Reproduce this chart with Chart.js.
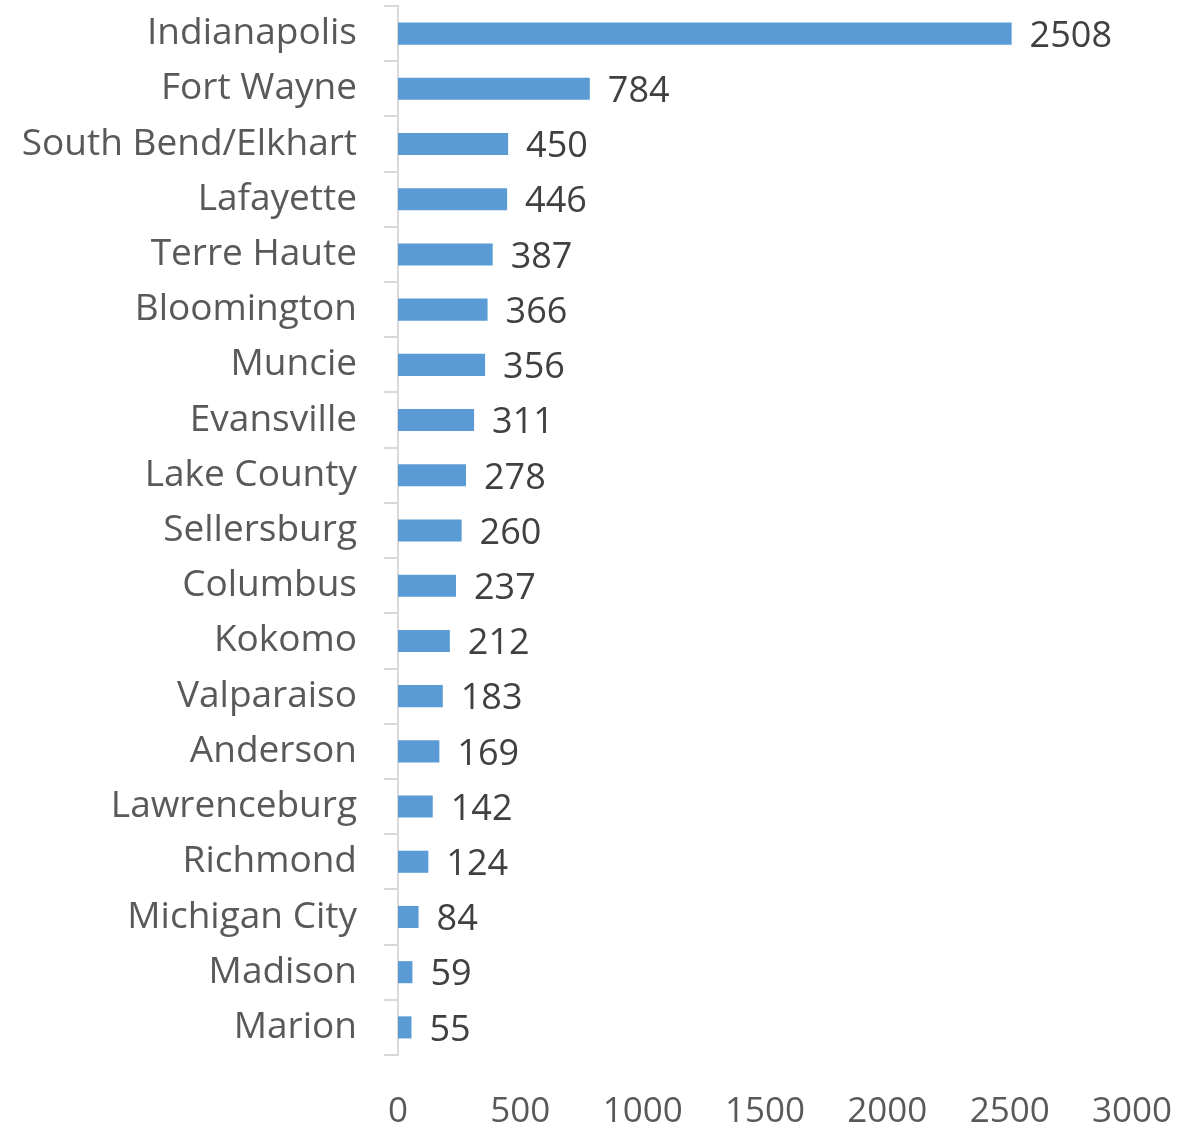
<!DOCTYPE html>
<html>
<head>
<meta charset="utf-8">
<script src="https://cdn.jsdelivr.net/npm/chart.js@4/dist/chart.umd.min.js"></script>
<style>
html,body{margin:0;padding:0;background:#fff;}
#wrap{width:1190px;height:1130px;}
</style>
</head>
<body>
<div id="wrap"><canvas id="c" width="1190" height="1130"></canvas></div>
<script>
const categories = ["Indianapolis","Fort Wayne","South Bend/Elkhart","Lafayette","Terre Haute","Bloomington","Muncie","Evansville","Lake County","Sellersburg","Columbus","Kokomo","Valparaiso","Anderson","Lawrenceburg","Richmond","Michigan City","Madison","Marion"];
const values = [2508,784,450,446,387,366,356,311,278,260,237,212,183,169,142,124,84,59,55];
const xTicks = [0,500,1000,1500,2000,2500,3000];

const FONT = "Open Sans";
const valueLabels = {
  id: 'valueLabels',
  afterDatasetsDraw(chart) {
    const ctx = chart.ctx;
    const meta = chart.getDatasetMeta(0);
    ctx.save();
    ctx.font = "36px '" + FONT + "'";
    ctx.fillStyle = "#404040";
    ctx.textAlign = "left";
    ctx.textBaseline = "middle";
    meta.data.forEach((bar, i) => {
      ctx.fillText(String(values[i]), bar.x + 18, bar.y + 3);
    });
    ctx.restore();
  }
};

new Chart(document.getElementById('c'), {
  type: 'bar',
  data: {
    labels: categories,
    datasets: [{
      data: values,
      backgroundColor: '#5B9BD5',
      borderWidth: 0,
      categoryPercentage: 0.4,
      barPercentage: 1.0
    }]
  },
  options: {
    indexAxis: 'y',
    responsive: false,
    animation: false,
    layout: { padding: { top: 6, right: 58, left: 0, bottom: 0 } },
    plugins: { legend: { display: false }, tooltip: { enabled: false } },
    scales: {
      x: {
        min: 0, max: 3000,
        afterBuildTicks(scale) { scale.ticks = xTicks.map(v => ({ value: v })); },
        grid: { display: false },
        border: { display: false },
        ticks: { color: '#595959', font: { family: FONT, size: 35 }, padding: 28, maxRotation: 0,
                 callback: (v) => String(v) },
        afterFit(scale) { scale.height = 75; scale.paddingLeft = 0; scale.paddingRight = 0; }
      },
      y: {
        offset: true,
        grid: { offset: true, drawOnChartArea: false, drawTicks: true, tickLength: 14, color: '#d9d9d9', lineWidth: 2 },
        border: { display: true, color: '#d9d9d9', width: 2 },
        ticks: { color: '#595959', font: { family: FONT, size: 37 }, padding: 27, autoSkip: false },
        afterFit(scale) { scale.width = 398; scale.paddingTop = 0; scale.paddingBottom = 0; }
      }
    }
  },
  plugins: [valueLabels]
});
</script>
</body>
</html>
